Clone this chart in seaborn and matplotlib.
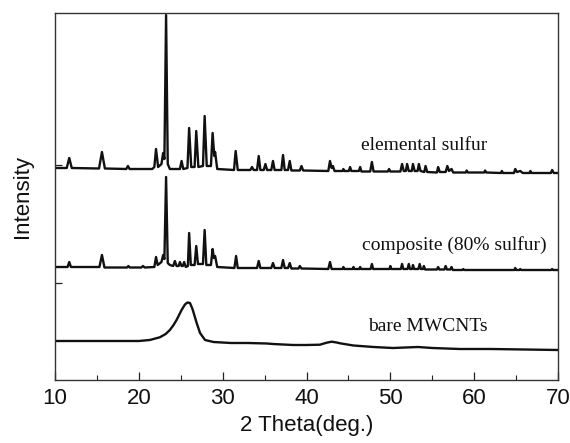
import matplotlib
matplotlib.use("Agg")
import matplotlib.pyplot as plt
import seaborn as sns
import pandas as pd
from matplotlib.ticker import MultipleLocator

# ---- data (2-theta in degrees, intensity in arbitrary offset units) ----
sulfur_x = [10.0, 11.4, 11.7, 12.0, 15.25, 15.6, 15.95, 18.5, 18.7, 18.9, 21.6, 21.85, 22.05, 22.3,
            22.7, 22.9, 23.05, 23.25, 23.45, 23.7, 24.9, 25.1, 25.3, 25.8, 26.0, 26.25, 26.65, 26.85,
            27.1, 27.65, 27.85, 28.1, 28.6, 28.8, 29.0, 29.1, 29.35, 31.35, 31.55, 31.8, 33.3, 33.5,
            33.7, 34.1, 34.3, 34.5, 34.9, 35.1, 35.3, 35.8, 36.0, 36.2, 37.0, 37.2, 37.4, 37.8, 38.0,
            38.2, 39.2, 39.4, 39.6, 42.6, 42.8, 43.0, 43.15, 43.35, 44.3, 44.4, 44.5, 45.05, 45.2,
            45.35, 46.25, 46.4, 46.55, 47.6, 47.8, 48.0, 49.7, 49.85, 50.0, 51.2, 51.4, 51.6, 51.85,
            52.0, 52.2, 52.55, 52.7, 52.9, 53.25, 53.4, 53.6, 54.05, 54.2, 54.4, 55.55, 55.7, 55.9,
            56.6, 56.8, 57.0, 57.3, 57.5, 59.0, 59.1, 59.25, 61.2, 61.3, 61.45, 63.2, 63.3, 63.45,
            64.75, 64.9, 65.1, 65.5, 65.8, 66.6, 66.7, 66.85, 69.15, 69.3, 69.5, 70.0]
sulfur_y = [212, 212, 222, 212, 211.5, 228, 211.5, 211, 214, 211, 211, 213, 231, 213,
            216, 227, 221, 365, 216, 211, 211, 219, 211, 212, 252, 213, 213, 249,
            213, 214, 264, 214, 214, 247, 224, 228, 211, 210, 229, 210, 210, 213,
            210, 210, 224, 210, 210, 216, 210, 210, 219, 210, 210, 225, 210, 210, 219,
            209.5, 209.5, 214, 209.5, 209, 219, 212, 214, 209, 209, 211, 209, 209, 213,
            209, 209, 213, 208.5, 208.5, 218, 208.5, 208.5, 211, 208.5, 208.5, 216, 209, 209,
            216, 209, 209, 216, 209, 209, 216, 209, 208, 214, 208, 207.5, 213, 208,
            208, 214, 209, 211, 207.5, 207.5, 209.5, 207.5, 207.5, 209.5, 207.5, 207, 209, 207,
            207, 211, 208, 209, 207, 207, 209, 207, 207, 210, 207, 207]

composite_x = [10.0, 11.5, 11.7, 11.9, 15.3, 15.6, 15.9, 18.6, 18.75, 18.9, 20.3, 20.5, 20.7, 21.85,
               22.05, 22.25, 22.7, 22.9, 23.05, 23.25, 23.45, 23.7, 24.1, 24.3, 24.5, 24.75, 24.9,
               25.1, 25.25, 25.4, 25.6, 25.85, 26.0, 26.2, 26.65, 26.85, 27.05, 27.65, 27.85, 28.05,
               28.6, 28.8, 28.95, 29.1, 29.35, 31.4, 31.6, 31.8, 34.1, 34.3, 34.5, 35.8, 36.0, 36.2,
               37.0, 37.2, 37.4, 37.8, 38.0, 38.2, 39.05, 39.2, 39.4, 42.6, 42.8, 43.0, 44.3, 44.4,
               44.5, 45.5, 45.6, 45.7, 46.3, 46.4, 46.5, 47.65, 47.8, 47.95, 49.9, 50.0, 50.1, 51.25,
               51.4, 51.55, 52.05, 52.2, 52.35, 52.6, 52.7, 52.85, 53.35, 53.5, 53.65, 53.9, 54.0,
               54.15, 55.55, 55.7, 55.85, 56.45, 56.6, 56.75, 57.15, 57.3, 57.45, 58.6, 58.7, 58.8,
               64.8, 64.9, 65.0, 65.4, 65.5, 65.6, 69.2, 69.3, 69.4, 70.0]
composite_y = [113, 113, 118, 113, 113, 125, 112.5, 112.5, 114, 112.5, 112.5, 114, 112.5, 113,
               123, 115, 118, 125, 121, 203, 117, 115, 114, 119, 114, 114, 118,
               114, 114, 118, 113, 114, 147, 115, 115, 134, 116, 116, 150, 115,
               115, 131, 122, 124, 113, 112, 124, 112, 112, 119, 112, 112, 117, 112,
               112, 120, 112, 112, 117, 111.5, 111.5, 114, 111.5, 111, 118, 111, 111, 113,
               111, 111, 113, 111, 111, 113, 111, 111, 116, 111, 111, 114, 111, 111,
               116, 111, 111, 116, 111, 111, 115, 111, 111, 116, 111, 111, 114,
               110.5, 110.5, 113, 110.5, 110.5, 114, 110.5, 110.5, 113, 110, 110, 111, 110,
               110, 112, 110, 110, 111, 110, 110, 111, 110, 110]

mwcnt_x = [10, 15, 20, 21.3, 22.5, 23.2, 23.7, 24.1, 24.5, 25.1, 25.5, 25.8, 26.1, 26.4, 26.9,
           27.3, 27.9, 28.9, 31, 33, 35.3, 36, 38.4, 40, 41.6, 42.4, 43.0, 43.6, 44.0, 45.6, 48,
           50.3, 53.3, 55, 58.3, 62, 66, 70]
mwcnt_y = [39, 39, 39, 40, 42.7, 46, 50, 54.5, 60, 70, 75.5, 77.5, 77, 71, 57,
           47, 40, 38, 37, 37, 36.5, 36, 35, 35, 35.3, 37.3, 38.3, 37.5, 36.7, 34.5, 33,
           32, 33, 32, 31, 31, 30.5, 30]

labels = ["elemental sulfur", "composite (80% sulfur)", "bare MWCNTs"]
label_x = [46.5, 46.6, 47.3]
label_y = [230, 130, 49]

x_ticks = [10, 20, 30, 40, 50, 60, 70]

# ---- plot ----
sns.set_style("ticks")
plt.rcParams["font.family"] = ["Liberation Sans", "DejaVu Sans"]

fig = plt.figure(figsize=(5.70, 4.43), dpi=100)
ax = fig.add_axes([55 / 570, 63 / 443, 503 / 570, 367 / 443])

series = [(sulfur_x, sulfur_y), (composite_x, composite_y), (mwcnt_x, mwcnt_y)]
for (xs, ys), name in zip(series, labels):
    df = pd.DataFrame({"two_theta": xs, "intensity": ys})
    sns.lineplot(data=df, x="two_theta", y="intensity", ax=ax, color="#111111",
                 linewidth=1.7, sort=False, estimator=None)

for name, tx, ty in zip(labels, label_x, label_y):
    ax.text(tx, ty, name, family=["Liberation Serif", "DejaVu Serif"], fontsize=14,
            color="#111111", ha="left", va="baseline")

ax.set_xlim(10, 70)
ax.set_ylim(0, 367)
ax.set_xticks(x_ticks)
ax.xaxis.set_minor_locator(MultipleLocator(5))
ax.set_yticks([97, 215])
ax.set_yticklabels([])
ax.tick_params(axis="x", which="major", direction="in", length=6, width=0.9,
               labelsize=16, pad=6, colors="#222222", labelcolor="#111111")
ax.tick_params(axis="x", which="minor", direction="in", length=3.5, width=0.8, colors="#222222")
ax.tick_params(axis="y", which="major", direction="in", length=5, width=0.9, colors="#222222")
ax.set_xlabel("2 Theta(deg.)", fontsize=16, labelpad=4, color="#111111")
ax.set_ylabel("Intensity", fontsize=16, labelpad=12, color="#111111")
for sp in ax.spines.values():
    sp.set_visible(True)
    sp.set_linewidth(1.0)
    sp.set_color("#333333")

fig.savefig("out.png", dpi=100)
